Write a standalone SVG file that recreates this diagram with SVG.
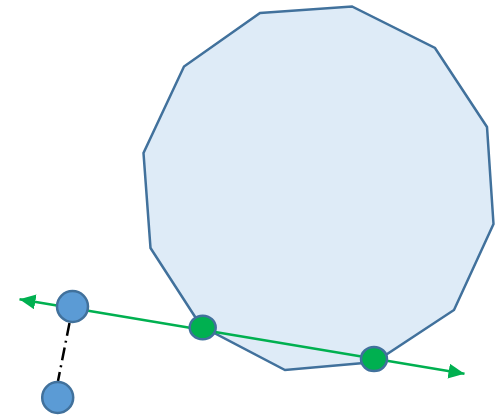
<svg xmlns="http://www.w3.org/2000/svg" width="495" height="415" viewBox="0 0 495 415">
<style>
.poly{fill:#deebf7;stroke:#41719c;stroke-width:2.5;stroke-linejoin:miter}
.blue{fill:#5b9bd5;stroke:#41719c;stroke-width:2.5}
.green{fill:#00b050;stroke:#41719c;stroke-width:2.5}
.arrow{stroke:#00b050;stroke-width:2.5;fill:none}
.dashdot{stroke:#000;stroke-width:2.5;fill:none;stroke-dasharray:13 5 2 5}
</style>
<defs>
<marker id="ah" markerUnits="userSpaceOnUse" markerWidth="18" markerHeight="17" refX="16" refY="7.5" orient="auto-start-reverse">
<path d="M0,0 L16,7.5 L0,15 Z" fill="#00b050"/>
</marker>
</defs>
<g id="polygon">
<polygon class="poly" points="260,13 352,6.5 435,48 487,127 493.5,224 454,310 375,362 285,370 201,326 150.5,248 143.5,153 184,66.5"/>
</g>
<g id="connectors">
<line class="arrow" x1="19.5" y1="299.3" x2="464.5" y2="373.8" marker-start="url(#ah)" marker-end="url(#ah)"/>
<line class="dashdot" x1="69.5" y1="323" x2="58" y2="381"/>
</g>
<g id="point-a"><circle class="blue" cx="72.5" cy="306.5" r="15.5"/></g>
<g id="point-b"><circle class="blue" cx="57.7" cy="397.5" r="15.5"/></g>
<g id="intersection-1"><ellipse class="green" cx="202.7" cy="327.5" rx="13" ry="11.8"/></g>
<g id="intersection-2"><ellipse class="green" cx="374" cy="359" rx="13" ry="12"/></g>
</svg>
